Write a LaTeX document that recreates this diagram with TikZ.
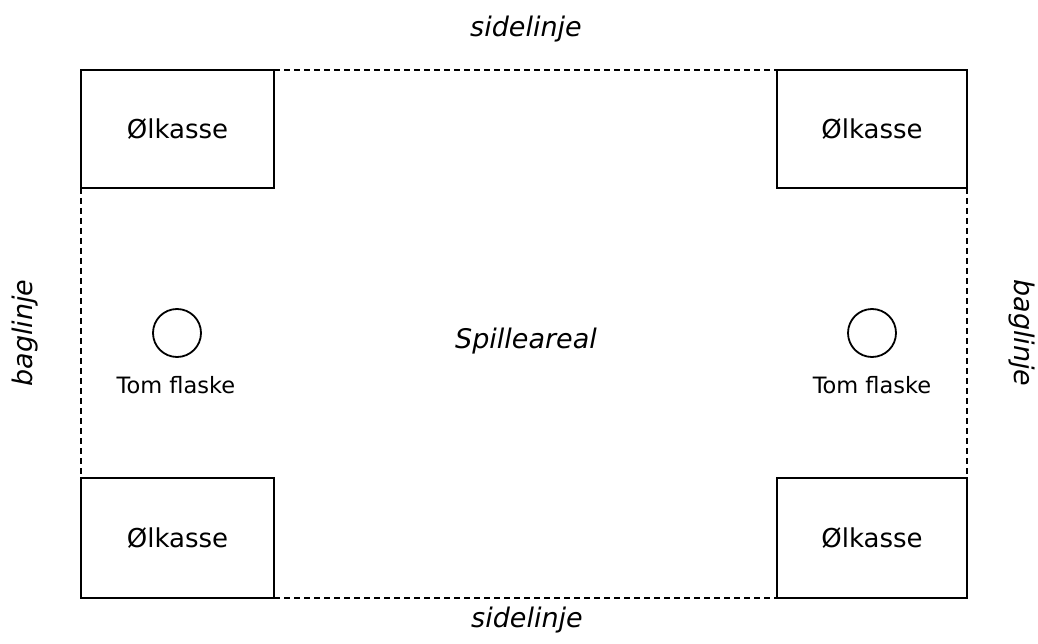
\documentclass[tikz,border=0pt]{standalone}
\usepackage{fontspec}
\setmainfont{DejaVu Sans}
\begin{document}
\begin{tikzpicture}[x=1pt,y=-1pt,
  dashline/.style={line width=1.6pt,dash pattern=on 6pt off 4pt},
  crate/.style={draw,line width=2pt,outer sep=0pt,minimum width=193pt,minimum height=118pt,inner sep=0pt,font=\fontsize{26}{30}\selectfont},
  bottle/.style={draw,circle,line width=1.8pt,minimum size=48pt,inner sep=0pt},
  lbl/.style={font=\fontsize{22.5}{26}\selectfont,inner sep=0pt},
  itl/.style={font=\fontsize{27}{32}\selectfont\itshape,inner sep=0pt}
]
\useasboundingbox (0,0) rectangle (1038,644);
\node[crate,anchor=north west] (tl) at (81,70) {Ølkasse};
\node[crate,anchor=north east,minimum width=190pt] (tr) at (967,70) {Ølkasse};
\node[crate,anchor=south west,minimum height=120pt] (bl) at (81,598) {Ølkasse};
\node[crate,anchor=south east,minimum height=120pt,minimum width=190pt] (br) at (967,598) {Ølkasse};
\draw[dashline] (tl.north east) -- (tr.north west);
\draw[dashline] (bl.south east) -- (br.south west);
\draw[dashline] (tl.south west) -- (bl.north west);
\draw[dashline] (tr.south east) -- (br.north east);
\node[bottle] (b1) at (177,333) {};
\node[bottle] (b2) at (872,333) {};
\node[lbl,anchor=base] (t1) at (176,393) {Tom flaske};
\node[lbl,anchor=base] (t2) at (872,393) {Tom flaske};
\node[itl,anchor=base] (sp) at (526,348) {Spilleareal};
\node[itl,anchor=base] (s1) at (526,37) {sidelinje};
\node[itl,anchor=base] (s2) at (527,627) {sidelinje};
\node[itl,rotate=90] (g1) at (25,333) {baglinje};
\node[itl,rotate=-90] (g2) at (1022,333) {baglinje};
\end{tikzpicture}
\end{document}
